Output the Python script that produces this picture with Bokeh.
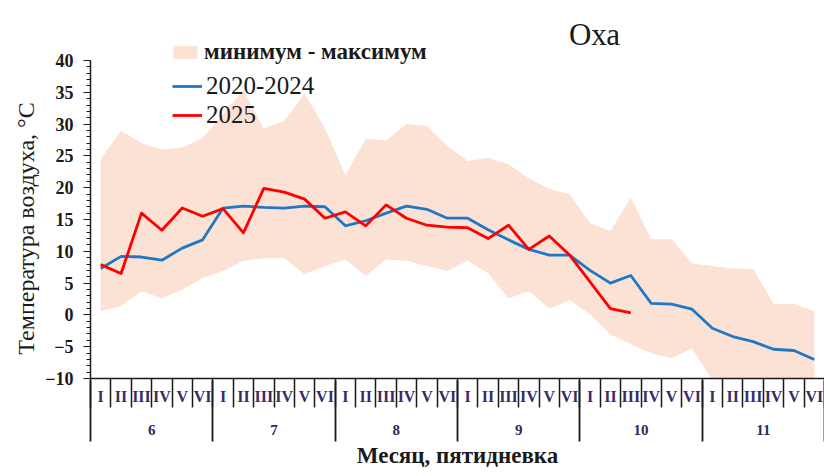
import numpy as np
from bokeh.plotting import figure
from bokeh.models import Range1d, LinearAxis, FixedTicker, Legend, LegendItem, Label
from bokeh.embed import file_html
from bokeh.resources import INLINE

# ---- data (pentads of months 6..11) ----
months = ["6", "7", "8", "9", "10", "11"]
pentads = ["I", "II", "III", "IV", "V", "VI"]

t_max = [24.5, 29.0, 27.0, 26.0, 26.3, 27.8, 31.5, 35.3, 29.3, 30.5, 34.8, 29.3,
         22.0, 27.7, 27.4, 30.0, 29.7, 26.6, 24.2, 24.7, 23.7, 21.5, 19.8, 19.0,
         14.4, 13.2, 18.4, 11.9, 11.9, 8.1, 7.7, 7.3, 7.2, 1.7, 1.7, 0.6]
t_min = [0.6, 1.4, 3.7, 2.6, 4.0, 5.8, 6.9, 8.5, 8.9, 8.9, 6.4, 7.7,
         8.7, 6.1, 8.7, 8.5, 7.7, 6.9, 8.5, 6.6, 2.6, 3.7, 1.0, 2.3,
         0.1, -3.1, -4.6, -6.0, -6.8, -5.3, -10.2, -11.0, -11.5, -12.0, -12.0, -12.5]
avg_2020_2024 = [7.3, 9.2, 9.1, 8.6, 10.5, 11.8, 16.8, 17.1, 16.9, 16.8, 17.1, 17.0,
                 14.0, 14.8, 16.0, 17.1, 16.6, 15.2, 15.2, 13.4, 11.8, 10.3, 9.4, 9.4,
                 7.0, 5.0, 6.2, 1.8, 1.7, 0.9, -2.1, -3.4, -4.2, -5.4, -5.6, -7.0]
t_2025 = [7.9, 6.5, 16.0, 13.3, 16.8, 15.5, 16.7, 12.9, 19.9, 19.3, 18.2, 15.2,
          16.2, 14.0, 17.3, 15.2, 14.1, 13.8, 13.7, 12.0, 14.1, 10.3, 12.4, 9.4,
          5.2, 1.0, 0.3]

n = len(months) * len(pentads)
xc = np.arange(n) + 0.5            # pentad centres
bounds = list(range(n + 1))         # pentad boundaries
mbounds = list(range(0, n + 1, 6))  # month boundaries
mcent = [i * 6 + 3 for i in range(len(months))]

BAND = "#FCE2D4"
BLUE = "#1F78C6"
RED = "#FF0000"
SERIF = "Liberation Serif"
AX = "#1a1a1a"

Y_LO, Y_HI = -10, 40
Y_TOP = 49.43   # frame extends above 40 so that title and legend sit in it

p = figure(width=824, height=476, x_range=Range1d(0, n), y_range=Range1d(Y_LO, Y_TOP),
           x_axis_type=None, y_axis_type=None, output_backend="svg", toolbar_location=None,
           min_border_left=90, min_border_right=0, min_border_top=0, min_border_bottom=98)
p.outline_line_color = None
p.background_fill_color = "white"
p.border_fill_color = "white"

band = p.varea(x=xc, y1=t_min, y2=t_max, fill_color=BAND, fill_alpha=1.0)
lb = p.line(xc, avg_2020_2024, line_color=BLUE, line_width=2.8, line_join="round")
lr = p.line(xc[:len(t_2025)], t_2025, line_color=RED, line_width=2.8, line_join="round")

# ---- y axis ----
yax = LinearAxis(ticker=FixedTicker(ticks=list(range(Y_LO, Y_HI + 1, 5)),
                                    minor_ticks=list(range(Y_LO, Y_HI + 1))),
                 bounds=(-10.8, Y_HI))
# trailing no-break spaces push the visible title down to the plotted span
yax.axis_label = "Температура воздуха, °С" + "\u00a0" * 13
yax.axis_label_text_font = SERIF
yax.axis_label_text_font_size = "24px"
yax.axis_label_text_font_style = "normal"
yax.axis_label_text_color = AX
yax.axis_label_standoff = 3
yax.major_label_text_font = SERIF
yax.major_label_text_font_size = "18px"
yax.major_label_text_font_style = "bold"
yax.major_label_text_color = AX
yax.major_label_standoff = 10
yax.major_tick_out = 7
yax.major_tick_in = 0
yax.minor_tick_out = 4
yax.minor_tick_in = 0
yax.axis_line_color = AX
yax.axis_line_width = 1.5
yax.major_tick_line_color = AX
yax.minor_tick_line_color = AX
p.add_layout(yax, "left")

# ---- x axis: pentads ----
xax1 = LinearAxis(ticker=FixedTicker(ticks=list(xc), minor_ticks=bounds))
xax1.major_label_overrides = {float(x): pentads[i % 6] for i, x in enumerate(xc)}
xax1.major_tick_out = 0
xax1.major_tick_in = 0
xax1.minor_tick_out = 29
xax1.minor_tick_in = 0
xax1.minor_tick_line_color = AX
xax1.minor_tick_line_width = 1.5
xax1.axis_line_color = AX
xax1.axis_line_width = 1.5
xax1.major_label_text_font = SERIF
xax1.major_label_text_font_size = "16px"
xax1.major_label_text_font_style = "bold"
xax1.major_label_text_color = "#3a2a6a"
xax1.major_label_standoff = -20
p.add_layout(xax1, "below")

# ---- x axis: months ----
xax2 = LinearAxis(ticker=FixedTicker(ticks=mcent, minor_ticks=mbounds))
xax2.major_label_overrides = {float(c): months[i] for i, c in enumerate(mcent)}
xax2.major_tick_out = 0
xax2.major_tick_in = 0
xax2.minor_tick_out = 34
xax2.minor_tick_in = 27
xax2.minor_tick_line_color = AX
xax2.minor_tick_line_width = 1.8
xax2.axis_line_color = None
xax2.major_label_text_font = SERIF
xax2.major_label_text_font_size = "15px"
xax2.major_label_text_font_style = "bold"
xax2.major_label_text_color = "#2a2a5a"
xax2.major_label_standoff = -17
xax2.axis_label = "Месяц, пятидневка"
xax2.axis_label_text_font = SERIF
xax2.axis_label_text_font_size = "23px"
xax2.axis_label_text_font_style = "bold"
xax2.axis_label_text_color = AX
xax2.axis_label_standoff = 5
p.add_layout(xax2, "below")

# ---- legends ----
leg1 = Legend(items=[LegendItem(label="минимум - максимум", renderers=[band])],
              location=(80, 313))
leg2 = Legend(items=[LegendItem(label="2020-2024", renderers=[lb]),
                     LegendItem(label="2025", renderers=[lr])],
              location=(82, 249))
for lg, fs, st, sp in ((leg1, "23px", "bold", 4), (leg2, "25px", "normal", 1)):
    lg.label_text_font = SERIF
    lg.label_text_font_size = fs
    lg.label_text_font_style = st
    lg.label_text_color = AX
    lg.border_line_color = None
    lg.background_fill_alpha = 0
    lg.padding = 0
    lg.margin = 0
    lg.spacing = sp
    lg.glyph_width = 30
    lg.glyph_height = 16
    lg.label_standoff = 4
    p.add_layout(lg)

title = Label(x=504, y=344, x_units="screen", y_units="screen", text="Оха",
              text_font=SERIF, text_font_size="31px", text_align="center",
              text_baseline="middle", text_color=AX)
p.add_layout(title)

open("out.html", "w").write(file_html(p, INLINE))
